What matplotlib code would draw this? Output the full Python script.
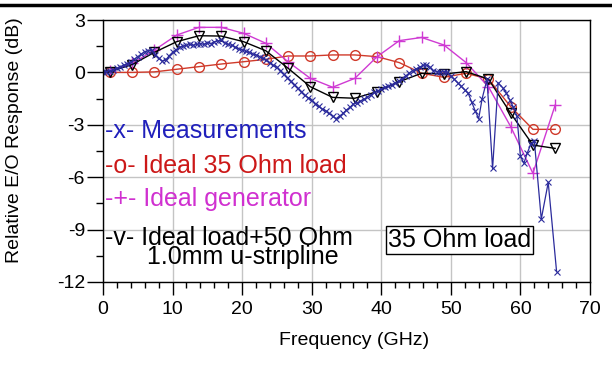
import matplotlib.pyplot as plt
import numpy as np
from matplotlib.lines import Line2D
from matplotlib.ticker import MultipleLocator

plt.rcParams['font.family'] = ['Liberation Sans', 'DejaVu Sans']
plt.rcParams['axes.unicode_minus'] = False

# Simulated curves share one frequency grid (GHz)
sim_freq = [1.0, 4.2, 7.4, 10.6, 13.8, 17.0, 20.2, 23.4, 26.6, 29.8, 33.0,
            36.2, 39.4, 42.6, 45.8, 49.0, 52.2, 55.4, 58.6, 61.8, 65.0]
ideal_35ohm = [0.0, 0.0, 0.03, 0.18, 0.33, 0.48, 0.61, 0.75, 0.94, 0.94, 1.0,
               1.0, 0.9, 0.56, -0.05, -0.28, -0.05, -0.38, -1.96, -3.26, -3.26]
ideal_gen = [0.1, 0.52, 1.28, 2.14, 2.58, 2.58, 2.24, 1.67, 0.61, -0.34, -0.85,
             -0.34, 0.9, 1.82, 2.0, 1.57, 0.56, -0.82, -3.1, -5.78, -1.87]
ideal_stripline = [0.05, 0.45, 1.15, 1.76, 2.1, 2.08, 1.76, 1.24, 0.24, -0.82, -1.43,
                   -1.48, -1.1, -0.53, -0.05, -0.09, 0.04, -0.38, -2.34, -4.16, -4.35]

# Measured E/O response
meas_freq = [0.0, 0.5, 1.0, 1.5, 2.0, 2.5, 3.0, 3.5, 4.0, 4.5, 5.0, 5.5, 6.0, 6.5, 7.0,
             7.5, 8.0, 8.5, 9.0, 9.5, 10.0, 10.5, 11.0, 11.5, 12.0, 12.5, 13.0, 13.5,
             14.0, 14.5, 15.0, 15.5, 16.0, 16.5, 17.0, 17.5, 18.0, 18.5, 19.0, 19.5,
             20.0, 20.5, 21.0, 21.5, 22.0, 22.5, 23.0, 23.5, 24.0, 24.5, 25.0, 25.5,
             26.0, 26.5, 27.0, 27.5, 28.0, 28.5, 29.0, 29.5, 30.0, 30.5, 31.0, 31.5,
             32.0, 32.5, 33.0, 33.5, 34.0, 34.5, 35.0, 35.5, 36.0, 36.5, 37.0, 37.5,
             38.0, 38.5, 39.0, 39.5, 40.0, 40.5, 41.0, 41.5, 42.0, 42.5, 43.0, 43.5,
             44.0, 44.5, 45.0, 45.5, 46.0, 46.5, 47.0, 47.5, 48.0, 48.5, 49.0, 49.5,
             50.0, 50.5, 51.0, 51.5, 52.0, 52.5, 53.0, 53.5, 54.0, 54.5, 55.2, 56.0,
             56.8, 57.5, 58.0, 58.5, 59.0, 59.5, 60.0, 60.5, 61.0, 61.5, 62.0, 63.0,
             64.0, 65.2]
meas_resp = [0.0, 0.05, 0.1, 0.15, 0.24, 0.32, 0.42, 0.5, 0.61, 0.75, 0.9, 1.05, 1.19,
             1.25, 1.28, 1.0, 0.8, 0.65, 0.7, 0.95, 1.15, 1.3, 1.45, 1.5, 1.55, 1.6,
             1.55, 1.6, 1.65, 1.6, 1.7, 1.65, 1.75, 1.8, 1.85, 1.7, 1.6, 1.55, 1.45,
             1.35, 1.3, 1.2, 1.15, 1.05, 1.0, 0.9, 0.8, 0.7, 0.55, 0.4, 0.3, 0.1, -0.1,
             -0.3, -0.5, -0.7, -0.9, -1.1, -1.3, -1.45, -1.6, -1.8, -1.95, -2.1, -2.2,
             -2.35, -2.5, -2.65, -2.5, -2.35, -2.15, -2.0, -1.8, -1.75, -1.65, -1.55,
             -1.4, -1.3, -1.15, -1.05, -0.95, -0.85, -0.8, -0.7, -0.6, -0.5, -0.35,
             -0.2, -0.05, 0.1, 0.2, 0.3, 0.4, 0.42, 0.3, 0.1, 0.05, 0.0, 0.05, 0.0,
             -0.2, -0.4, -0.6, -0.8, -1.0, -1.2, -1.7, -2.2, -2.65, -1.5, -0.4, -5.5,
             -0.6, -0.9, -1.2, -1.6, -2.0, -2.5, -4.8, -5.2, -4.6, -4.1, -3.9, -8.4,
             -6.3, -11.4]

fig = plt.figure(figsize=(6.12, 3.65), dpi=100)
ax = fig.add_axes([0.1683, 0.2274, 0.7957, 0.7178])

# simulated curves start from the origin, markers only on the grid points
ax.plot([0] + sim_freq, [0] + ideal_35ohm, color='#d03a2a', lw=1,
        marker='o', mfc='none', ms=7, mew=1, markevery=range(1, 22))
ax.plot([0] + sim_freq, [0] + ideal_gen, color='#cf3ad3', lw=1,
        marker='+', ms=9, mew=1, markevery=range(1, 22))
ax.plot([0] + sim_freq, [0] + ideal_stripline, color='black', lw=1,
        marker='v', mfc='none', ms=7, mew=1, markevery=range(1, 22))
ax.plot(meas_freq, meas_resp, color='#2b2b9c', lw=0.9, marker='x', ms=4.5, mew=0.8)

ax.set_xlim(0, 70)
ax.set_ylim(-12, 3)
ax.xaxis.set_major_locator(MultipleLocator(10))
ax.xaxis.set_minor_locator(MultipleLocator(2))
ax.yaxis.set_major_locator(MultipleLocator(3))
ax.yaxis.set_minor_locator(MultipleLocator(1.5))
ax.grid(True, which='major', color='#c4c4c4', lw=1)
ax.set_axisbelow(True)

ax.tick_params(axis='y', which='major', direction='out', length=11.5, width=1, labelsize=14, pad=1.5)
ax.tick_params(axis='y', which='minor', direction='out', length=5, width=1)
ax.tick_params(axis='x', which='major', direction='out', length=9.5, width=1, labelsize=14, pad=4)
ax.tick_params(axis='x', which='minor', direction='out', length=4.3, width=1)
for s in ax.spines.values():
    s.set_linewidth(1)

ax.set_xlabel('Frequency (GHz)', fontsize=14)
ax.xaxis.set_label_coords(0.515, -0.19)
ax.set_ylabel('Relative E/O Response (dB)', fontsize=14)
ax.yaxis.set_label_coords(-0.165, 0.54)

# hand-written legend inside the plot
tx = ax.transAxes
ax.text(0.004, 0.550, '-x- Measurements', color='#2020bb', fontsize=18, transform=tx, va='baseline')
ax.text(0.004, 0.416, '-o- Ideal 35 Ohm load', color='#cc1818', fontsize=18, transform=tx, va='baseline')
ax.text(0.004, 0.290, '-+- Ideal generator', color='#d030d0', fontsize=18, transform=tx, va='baseline')
ax.text(0.004, 0.069, '-v- Ideal load+50 Ohm\n      1.0mm u-stripline', color='black',
        fontsize=18, transform=tx, va='baseline', linespacing=0.72)

ax.text(0.732, 0.134, '35 Ohm load', color='black', fontsize=18, transform=tx,
        ha='center', va='baseline',
        bbox=dict(boxstyle='square,pad=0.08', fc='white', ec='black', lw=1))

# rule across the top of the figure
fig.add_artist(Line2D([0, 1], [0.986, 0.986], transform=fig.transFigure, color='black', lw=2.5))

fig.savefig('out.png', dpi=100)
